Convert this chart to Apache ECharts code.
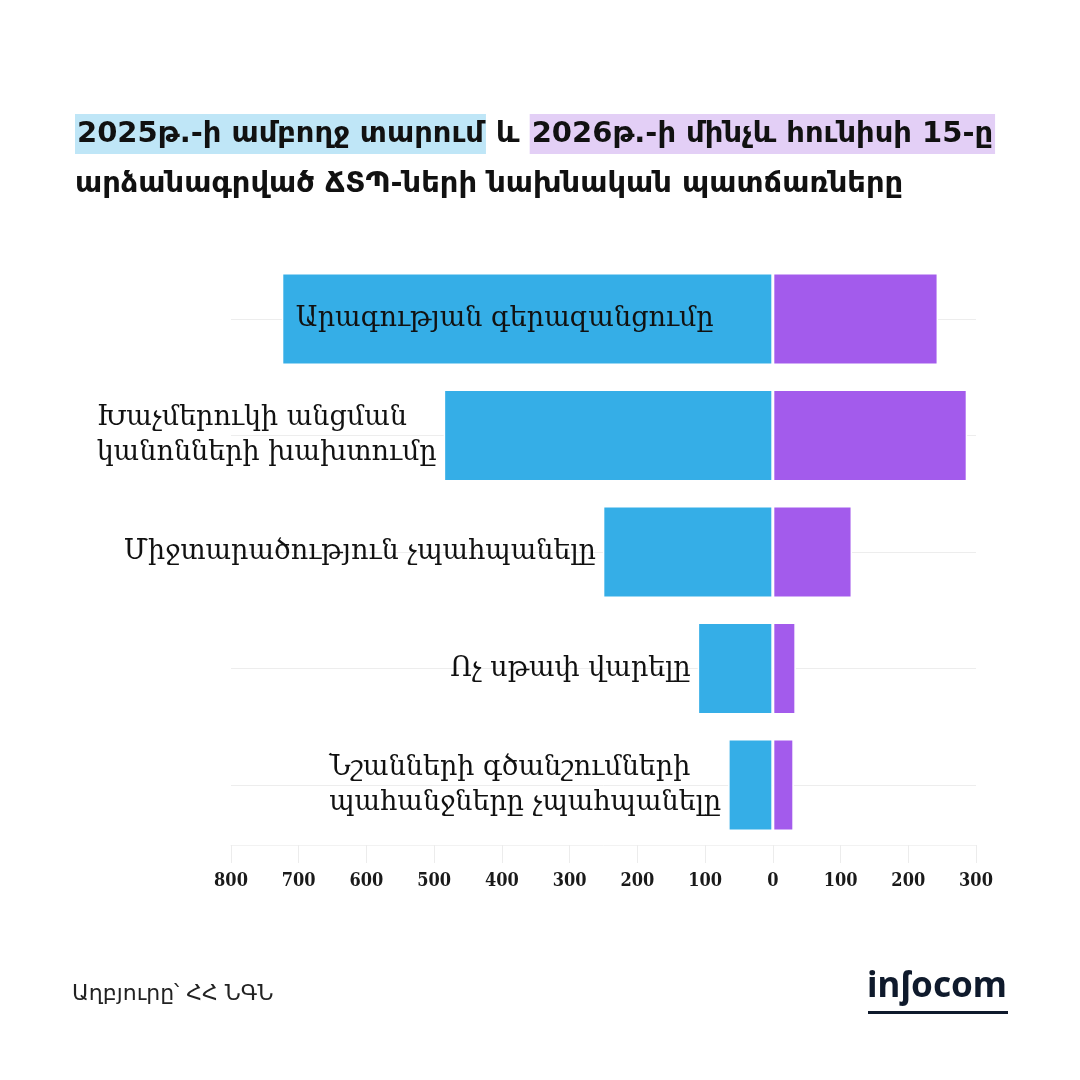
<!DOCTYPE html>
<html>
<head>
<meta charset="utf-8">
<script src="https://cdn.jsdelivr.net/npm/echarts@6/dist/echarts.min.js"></script>
<style>
  html, body { margin: 0; background: #fff; }
  #chart { width: 1080px; height: 1080px; }
</style>
</head>
<body>
<div id="chart"></div>
<script>
/* ===== data ===== */
const categories = [
    "Արագության գերազանցումը",
    "Խաչմերուկի անցման\nկանոնների խախտումը",
    "Միջտարածություն չպահպանելը",
    "Ոչ սթափ վարելը",
    "Նշանների գծանշումների\nպահանջները չպահպանելը"
];
const values2025 = [725, 486, 251, 111, 66];
const values2026 = [244, 287, 117, 34, 31];
const axisMin = -800;
const axisMax = 300;
const axisStep = 100;

const BLUE = "#35aee7";
const PURPLE = "#a35bec";
const SERIF = '"DejaVu Serif", serif';
const SANS = '"DejaVu Sans", sans-serif';

// category label: left of the blue bar, first one sits inside it
function catLabel(i) {
    const inside = i === 0;
    return {
        show: true,
        position: inside ? "insideLeft" : "left",
        distance: inside ? 14 : 7,
        formatter: () => categories[i].split("\n").map(l => `{l|${l}}`).join("\n"),
        rich: {
            l: { align: "left", fontFamily: SERIF, fontSize: 27, color: "#111", lineHeight: 35 }
        }
    };
}

const chart = echarts.init(document.getElementById("chart"));
chart.setOption({
    animation: false,
    backgroundColor: "#fff",
    title: {
        left: 70,
        top: 104,
        text: "{a|2025թ.-ի ամբողջ տարում} և {b|2026թ.-ի մինչև հունիսի 15-ը}\nարձանագրված ՃՏՊ-ների նախնական պատճառները",
        textStyle: {
            fontFamily: SANS, fontSize: 29, fontWeight: "bold", color: "#111", lineHeight: 50,
            rich: {
                a: { fontFamily: SANS, fontSize: 29, fontWeight: "bold", color: "#111",
                     backgroundColor: "#bfe6f7", height: 40, padding: [0, 2] },
                b: { fontFamily: SANS, fontSize: 29, fontWeight: "bold", color: "#111",
                     backgroundColor: "#e3cff6", height: 40, padding: [0, 2] }
            }
        }
    },
    grid: { left: 231, right: 104, top: 319, bottom: 295 },
    xAxis: {
        type: "value",
        min: axisMin,
        max: axisMax,
        interval: axisStep,
        offset: 60,
        axisLine: { show: true, lineStyle: { color: "#f2f2f2" } },
        axisTick: { show: true, length: 18, lineStyle: { color: "#ececec" } },
        splitLine: { show: false },
        axisLabel: {
            margin: 27,
            fontFamily: '"DejaVu Serif Condensed", "DejaVu Serif", serif',
            fontSize: 18, fontWeight: "bold", color: "#1a1a1a",
            formatter: v => Math.abs(v)
        }
    },
    yAxis: {
        type: "category",
        data: categories,
        inverse: true,
        boundaryGap: false,
        axisLine: { show: false },
        axisTick: { show: false },
        axisLabel: { show: false },
        splitLine: { show: true, lineStyle: { color: "#ededed", width: 1 } }
    },
    series: [
        {
            name: "2025",
            type: "bar",
            stack: "total",
            barWidth: 92,
            itemStyle: { color: BLUE, borderColor: "#fff", borderWidth: 1.5 },
            data: values2025.map((v, i) => ({ value: -v, label: catLabel(i) }))
        },
        {
            name: "2026",
            type: "bar",
            stack: "total",
            barWidth: 92,
            itemStyle: { color: PURPLE, borderColor: "#fff", borderWidth: 1.5 },
            data: values2026
        }
    ],
    graphic: [
        {
            type: "text",
            left: 72,
            top: 983,
            style: { text: "Աղբյուրը՝ ՀՀ ՆԳՆ", fontFamily: SANS, fontSize: 22, fill: "#222" }
        },
        {
            type: "text",
            left: 867,
            top: 970,
            style: { text: "inʃocom", fontFamily: '"Noto Sans", sans-serif', fontSize: 35, fontWeight: "bold", fill: "#0f1a2c" }
        },
        {
            type: "rect",
            left: 868,
            top: 1011,
            shape: { width: 140, height: 3 },
            style: { fill: "#0f1a2c" }
        }
    ]
});
</script>
</body>
</html>
